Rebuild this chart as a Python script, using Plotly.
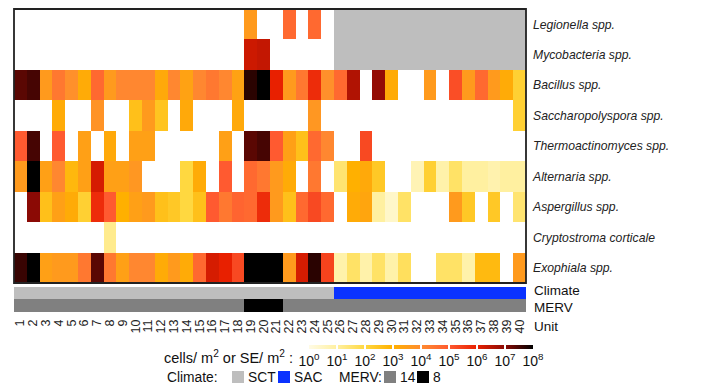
import plotly.graph_objects as go

# page body has an 8px margin: design in screenshot pixels, convert with OFF
OFF = 8
W, H = 707 - OFF, 388 - OFF

# ---------------- data ----------------
units = list(range(1, 41))
organisms = ["Legionella spp.", "Mycobacteria spp.", "Bacillus spp.", "Saccharopolyspora spp.",
             "Thermoactinomyces spp.", "Alternaria spp.", "Aspergillus spp.",
             "Cryptostroma corticale", "Exophiala spp."]
N = None
# log10(cells/m2 or SE/m2); None = not detected
legionella = [N]*18 + [3.6, N, N, 4.7, N, 4.7] + [N]*16
mycobacteria = [N]*18 + [6.3, 6.4] + [N]*20
bacillus = [7.35, 7.5, 3.6, 4.4, 3.9, 3.15, 4.7, 3.6, 4.1, 4.1,
            4.1, 3.2, 4.1, 3.4, 4.1, 4.4, 4.1, 3.4, 7.7, 8.0,
            6.0, 3.6, 4.4, 5.8, 3.9, 4.7, 6.6, N, 6.9, 3.15,
            N, N, 3.6, N, 5.2, 3.6, 4.7, 3.6, 3.15, 2.2]
saccharopolyspora = [N, N, N, 3.15, N, N, 3.8, N, N, 2.6,
                     3.6, 2.5, N, 3.2, N, N, N, 3.2, N, N,
                     N, N, N, 3.7, N, N, N, N, N, N,
                     N, N, N, N, N, N, N, N, N, 2.2]
thermoactinomyces = [5.0, 7.5, N, 5.0, N, 3.45, N, 3.2, N, 3.45,
                     3.45, N, N, N, N, N, 3.45, N, 7.35, 7.5,
                     5.0, 3.45, 2.6, 4.7, 4.1, N, N, 5.3, N, N,
                     N, N, N, N, N, N, N, N, N, N]
alternaria = [3.6, 8.0, 3.45, 4.1, 2.8, 3.45, 6.2, 3.45, 3.45, 3.7,
              N, N, N, 2.0, 3.15, N, 5.0, N, 4.7, 4.4,
              3.6, 3.15, N, 4.4, N, 1.5, 3.0, 3.2, 2.4, N,
              N, 0.7, 2.2, 0.85, 1.6, 1.0, 1.0, 0.8, 1.0, 1.0]
aspergillus = [N, 7.0, 2.6, 3.45, 3.15, 2.2, 5.8, 5.0, 3.0, 3.45,
               3.6, 2.6, 2.4, 2.0, 2.6, 5.0, 4.4, 4.8, 4.7, 5.8,
               3.6, 2.6, 4.7, 5.3, 4.7, N, 3.15, 3.3, 1.0, 0.4,
               1.6, N, N, N, 3.6, 2.4, N, 2.4, N, 1.5]
cryptostroma = [N]*7 + [1.2] + [N]*32
exophiala = [7.6, 8.0, 3.45, 3.6, 3.6, 4.4, 7.35, 4.4, 3.45, 4.1,
             4.1, 3.15, 3.6, 3.15, 4.7, 6.2, 6.0, 5.3, 8.0, 8.0,
             8.0, 3.6, 6.2, 7.7, 5.4, 0.85, 1.6, 0.85, 1.6, 0.85,
             1.7, N, N, 1.6, 1.6, 0.85, 2.75, 2.75, N, 3.6]
values = [legionella, mycobacteria, bacillus, saccharopolyspora, thermoactinomyces,
          alternaria, aspergillus, cryptostroma, exophiala]

# not measured (grey): Legionella & Mycobacteria for units 26-40
not_measured_units = list(range(26, 41))
not_measured_rows = ["Legionella spp.", "Mycobacteria spp."]

climate = ["SCT"]*25 + ["SAC"]*15
merv = [14]*18 + [8, 8, 8] + [14]*19

exp_ticks = list(range(0, 9))
exp_labels = [f"10<sup>{k}</sup>" for k in exp_ticks]

# ---------------- styling ----------------
heat_scale = [[0/8, "#fffbe5"], [1/8, "#fff0a0"], [2/8, "#ffd840"], [3/8, "#ffb000"],
              [4/8, "#ff8c30"], [5/8, "#ff5a30"], [6/8, "#e82000"], [7/8, "#8b0a05"],
              [8/8, "#000000"]]
GREY_NA = "#bebebe"
SCT_C, SAC_C = "#bebebe", "#0a32ff"
M14_C, M8_C = "#808080", "#000000"
FONT = "Liberation Sans, Arial, sans-serif"

def px(x):
    return (x - OFF) / W

def py(y):
    return 1 - (y - OFF) / H

fig = go.Figure()

fig.add_trace(go.Heatmap(
    z=values, x=units, y=organisms, colorscale=heat_scale, zmin=0, zmax=8,
    xgap=0, ygap=0, hoverongaps=False,
    colorbar=dict(orientation="h", x=px(421), xanchor="center", y=py(344.5), yanchor="top",
                  len=224 / W, lenmode="fraction", thickness=4, outlinewidth=0,
                  xpad=0, ypad=0, tickvals=exp_ticks, ticktext=exp_labels,
                  ticks="inside", tickcolor="white", ticklen=4, tickwidth=1.5,
                  tickfont=dict(size=14, color="#111", family=FONT)),
))

na_z = [[1 if (org in not_measured_rows and u in not_measured_units) else None for u in units]
        for org in organisms]
fig.add_trace(go.Heatmap(z=na_z, x=units, y=organisms, zmin=0, zmax=1,
                         colorscale=[[0, GREY_NA], [1, GREY_NA]], showscale=False,
                         hoverongaps=False))

fig.add_trace(go.Heatmap(z=[[0 if c == "SCT" else 1 for c in climate]], x=units, y=["Climate"],
                         zmin=0, zmax=1, colorscale=[[0, SCT_C], [1, SAC_C]], showscale=False,
                         xaxis="x", yaxis="y2"))
fig.add_trace(go.Heatmap(z=[[0 if m == 14 else 1 for m in merv]], x=units, y=["MERV"],
                         zmin=0, zmax=1, colorscale=[[0, M14_C], [1, M8_C]], showscale=False,
                         xaxis="x", yaxis="y3"))

fig.update_layout(
    width=W, height=H, margin=dict(l=0, r=0, t=0, b=0, autoexpand=False),
    paper_bgcolor="white", plot_bgcolor="white",
    font=dict(family=FONT, color="#222"),
    xaxis=dict(domain=[px(14), px(526)], anchor="y3", range=[0.5, 40.5],
               tickvals=units, ticktext=[str(u) for u in units], tickangle=-90,
               tickfont=dict(size=12.5, color="#222"), ticks="", showgrid=False,
               zeroline=False, showline=False, ticklabelstandoff=4),
    yaxis=dict(domain=[py(283), py(9)], anchor="x", side="right", autorange="reversed",
               tickvals=organisms, ticktext=[f"<i>{o}</i>" for o in organisms],
               tickfont=dict(size=12.2, color="#222"), ticks="", showgrid=False,
               zeroline=False, ticklabelstandoff=6),
    yaxis2=dict(domain=[py(299), py(287)], anchor="x", showticklabels=False,
                ticks="", showgrid=False, zeroline=False),
    yaxis3=dict(domain=[py(312), py(299)], anchor="x", showticklabels=False,
                ticks="", showgrid=False, zeroline=False),
)

# border around heatmap
fig.add_shape(type="rect", xref="x domain", yref="y domain", x0=0, x1=1, y0=0, y1=1,
              line=dict(color="#222", width=1.8), fillcolor="rgba(0,0,0,0)")

ann = dict(xref="paper", yref="paper", showarrow=False, borderpad=0,
           font=dict(size=13.5, color="#111", family=FONT))
fig.add_annotation(text="Climate", x=px(533), y=py(299), xanchor="left", yanchor="bottom", **ann)
fig.add_annotation(text="MERV", x=px(533), y=py(299), xanchor="left", yanchor="top", **ann)
fig.add_annotation(text="Unit", x=px(533), y=py(326), xanchor="left", yanchor="middle", **ann)

leg1 = dict(ann)
leg1["font"] = dict(size=14.5, color="#111", family=FONT)
fig.add_annotation(text="cells/ m<sup>2</sup> or SE/ m<sup>2</sup> :", x=px(294), y=py(357),
                   xanchor="right", yanchor="middle", **leg1)

leg2 = dict(ann)
leg2["font"] = dict(size=13.8, color="#111", family=FONT)
legend_items = [("Climate:", 166, None), ("SCT", 247, SCT_C), ("SAC", 293, SAC_C),
                ("MERV:", 338, None), ("14", 399, M14_C), ("8", 432, M8_C)]
for text, x, col in legend_items:
    fig.add_annotation(text=text, x=px(x), y=py(377), xanchor="left", yanchor="middle", **leg2)
    if col is not None:
        fig.add_shape(type="rect", xref="paper", yref="paper", x0=px(x - 15), x1=px(x - 3),
                      y0=py(383), y1=py(371), fillcolor=col, line=dict(width=0))

fig.write_html("out.html")
